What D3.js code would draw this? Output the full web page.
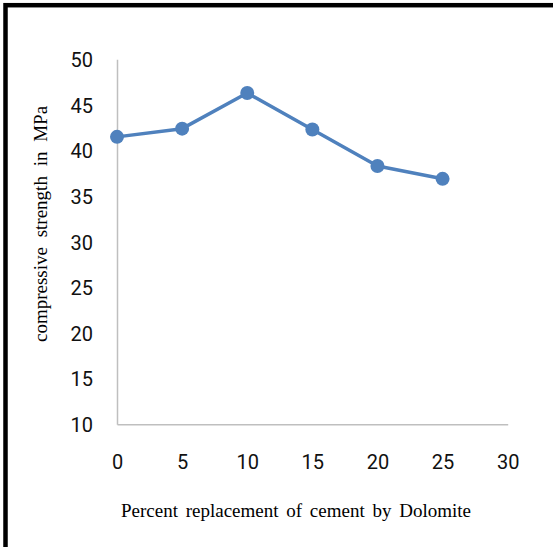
<!DOCTYPE html>
<html><head><meta charset="utf-8">
<script src="https://cdn.jsdelivr.net/npm/d3@7"></script>
<style>html,body{margin:0;padding:0;background:#fff;}svg{display:block;}</style>
</head><body>
<script>
const xValues = [0, 5, 10, 15, 20, 25];
const strength = [41.5, 42.4, 46.3, 42.3, 38.3, 36.9];
const xTicks = [0, 5, 10, 15, 20, 25, 30];
const yTicks = [10, 15, 20, 25, 30, 35, 40, 45, 50];
const xTitle = "Percent replacement of cement by Dolomite";
const yTitle = "compressive strength in MPa";

const W = 553, H = 547;
const svg = d3.select("body").append("svg").attr("width", W).attr("height", H);
svg.append("rect").attr("width", W).attr("height", H).attr("fill", "#fff");
// frame
svg.append("rect").attr("x", 5.5).attr("y", 5.2).attr("width", W + 20).attr("height", H + 20)
  .attr("fill", "none").attr("stroke", "#000").attr("stroke-width", 4.5);

const x = d3.scaleLinear().domain([0, 30]).range([117, 507.7]);
const y = d3.scaleLinear().domain([10, 50]).range([424.3, 59.3]);

const yAxis = svg.append("g").attr("transform", `translate(${x(0)},0)`)
  .call(d3.axisLeft(y).tickValues(yTicks).tickSize(0).tickPadding(24));
yAxis.select(".domain").attr("stroke", "#bfbfbf").attr("stroke-width", 1.5);
yAxis.selectAll("text").attr("font-family", "Roboto, sans-serif").attr("font-size", 20).attr("fill", "#111").attr("dy", "0.36em");

const xAxis = svg.append("g").attr("transform", `translate(0,${y(10)})`)
  .call(d3.axisBottom(x).tickValues(xTicks).tickSize(0).tickPadding(31));
xAxis.select(".domain").attr("stroke", "#bfbfbf").attr("stroke-width", 1.5);
xAxis.selectAll("text").attr("font-family", "Roboto, sans-serif").attr("font-size", 20).attr("fill", "#111");

const pts = xValues.map((v, i) => [v, strength[i]]);
svg.append("path").datum(pts)
  .attr("fill", "none").attr("stroke", "#4f81bd").attr("stroke-width", 3.5)
  .attr("stroke-linejoin", "round")
  .attr("d", d3.line().x(d => x(d[0])).y(d => y(d[1])));
svg.selectAll("circle.pt").data(pts).join("circle").attr("class", "pt")
  .attr("cx", d => x(d[0])).attr("cy", d => y(d[1])).attr("r", 7)
  .attr("fill", "#4f81bd");

svg.append("text").attr("x", 296).attr("y", 517).attr("text-anchor", "middle")
  .attr("font-family", "'Liberation Serif', 'Times New Roman', serif").attr("font-size", 19)
  .attr("word-spacing", 3)
  .attr("fill", "#000").text(xTitle);

svg.append("text").attr("transform", "translate(47,224) rotate(-90)").attr("text-anchor", "middle")
  .attr("font-family", "'Liberation Serif', 'Times New Roman', serif").attr("font-size", 19)
  .attr("word-spacing", 5)
  .attr("fill", "#000").text(yTitle);
</script>
</body></html>
